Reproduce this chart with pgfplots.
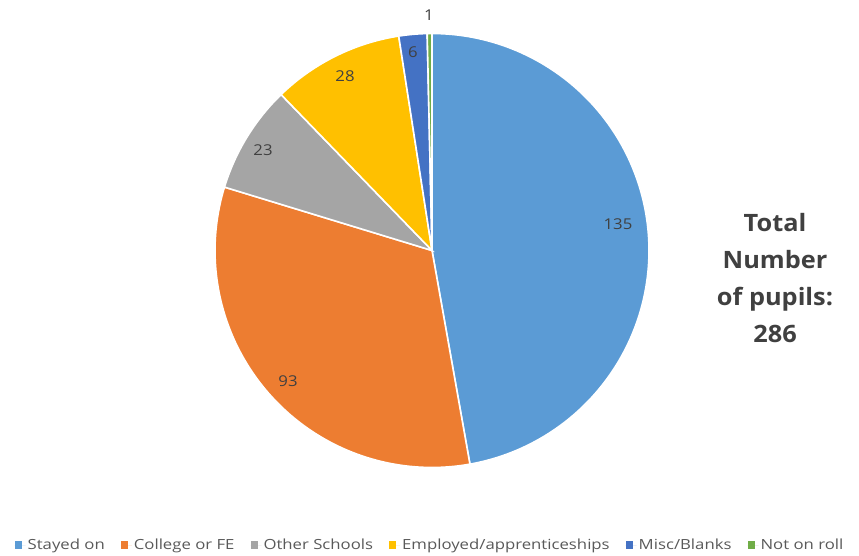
\documentclass[border=0pt]{standalone}
\usepackage{pgfplots}
\usepackage{pgfplotstable}
\usepackage{fontspec}
\setmainfont{Open Sans}
\newfontfamily\legfont[FakeStretch=1.2]{Open Sans}
\newfontfamily\labfont[FakeStretch=1.12]{Open Sans}
\newfontfamily\totfont[FakeStretch=1.06]{Open Sans}
\pgfplotsset{compat=1.18}
\definecolor{cA}{HTML}{5B9BD5}
\definecolor{cB}{HTML}{ED7D31}
\definecolor{cC}{HTML}{A5A5A5}
\definecolor{cD}{HTML}{FFC000}
\definecolor{cE}{HTML}{4472C4}
\definecolor{cF}{HTML}{70AD47}
\definecolor{txt}{HTML}{404040}
\definecolor{legtxt}{HTML}{595959}
\pgfplotstableread{
value
135
93
23
28
6
1
}\pietable
\begin{document}%
\begin{tikzpicture}
\def\tot{286}
\def\cx{432}\def\cy{305.5}\def\R{217}
\pgfplotstablegetelem{0}{value}\of\pietable\let\vA\pgfplotsretval
\pgfplotstablegetelem{1}{value}\of\pietable\let\vB\pgfplotsretval
\pgfplotstablegetelem{2}{value}\of\pietable\let\vC\pgfplotsretval
\pgfplotstablegetelem{3}{value}\of\pietable\let\vD\pgfplotsretval
\pgfplotstablegetelem{4}{value}\of\pietable\let\vE\pgfplotsretval
\pgfplotstablegetelem{5}{value}\of\pietable\let\vF\pgfplotsretval
\pgfmathsetmacro\sA{90}
\pgfmathsetmacro\sB{\sA-\vA/\tot*360}
\pgfmathsetmacro\sC{\sB-\vB/\tot*360}
\pgfmathsetmacro\sD{\sC-\vC/\tot*360}
\pgfmathsetmacro\sE{\sD-\vD/\tot*360}
\pgfmathsetmacro\sF{\sE-\vE/\tot*360}
\pgfmathsetmacro\sG{\sF-\vF/\tot*360}
\begin{axis}[
  width=859bp, height=556bp, scale only axis,
  xmin=0, xmax=859, ymin=0, ymax=556,
  hide axis, clip=false,
  legend columns=6,
  legend style={at={(axis cs:430,11)}, anchor=center, draw=none, fill=none,
    font=\legfont\fontsize{14}{16}\selectfont, text=legtxt,
    /tikz/every even column/.append style={column sep=14bp}},
  legend image code/.code={\fill[#1] (0bp,-3.5bp) rectangle (7bp,3.5bp); \path (0bp,0bp) -- (11bp,0bp);},
]
\draw[draw=none] (axis cs:0,0) rectangle (axis cs:859,556);
\addplot[forget plot, fill=cA, draw=white, line width=1.6bp, domain=\sB:\sA, samples=120] ({\cx+\R*cos(x)},{\cy+\R*sin(x)}) -- (axis cs:\cx,\cy) -- cycle;
\addplot[forget plot, fill=cB, draw=white, line width=1.6bp, domain=\sC:\sB, samples=90] ({\cx+\R*cos(x)},{\cy+\R*sin(x)}) -- (axis cs:\cx,\cy) -- cycle;
\addplot[forget plot, fill=cC, draw=white, line width=1.6bp, domain=\sD:\sC, samples=30] ({\cx+\R*cos(x)},{\cy+\R*sin(x)}) -- (axis cs:\cx,\cy) -- cycle;
\addplot[forget plot, fill=cD, draw=white, line width=1.6bp, domain=\sE:\sD, samples=30] ({\cx+\R*cos(x)},{\cy+\R*sin(x)}) -- (axis cs:\cx,\cy) -- cycle;
\addplot[forget plot, fill=cE, draw=white, line width=1.6bp, domain=\sF:\sE, samples=10] ({\cx+\R*cos(x)},{\cy+\R*sin(x)}) -- (axis cs:\cx,\cy) -- cycle;
\addplot[forget plot, fill=cF, draw=white, line width=1.6bp, domain=\sG:\sF, samples=5] ({\cx+\R*cos(x)},{\cy+\R*sin(x)}) -- (axis cs:\cx,\cy) -- cycle;
\addlegendimage{fill=cA, draw=none}\addlegendentry{Stayed on}
\addlegendimage{fill=cB, draw=none}\addlegendentry{College or FE}
\addlegendimage{fill=cC, draw=none}\addlegendentry{Other Schools}
\addlegendimage{fill=cD, draw=none}\addlegendentry{Employed/apprenticeships}
\addlegendimage{fill=cE, draw=none}\addlegendentry{Misc/Blanks}
\addlegendimage{fill=cF, draw=none}\addlegendentry{Not on roll}
\begin{scope}[every node/.style={font=\labfont\fontsize{15}{17}\selectfont, text=txt}]
\node at (axis cs:618,332) {135};
\node at (axis cs:288,175) {93};
\node at (axis cs:263,406) {23};
\node at (axis cs:345,480) {28};
\node at (axis cs:413,504) {6};
\node at (axis cs:429,541) {1};
\end{scope}
\node[font=\totfont\bfseries\fontsize{24}{37}\selectfont, text=txt, align=center] at (axis cs:775,278) {Total\\Number\\of pupils:\\286};
\end{axis}
\end{tikzpicture}%
\end{document}
